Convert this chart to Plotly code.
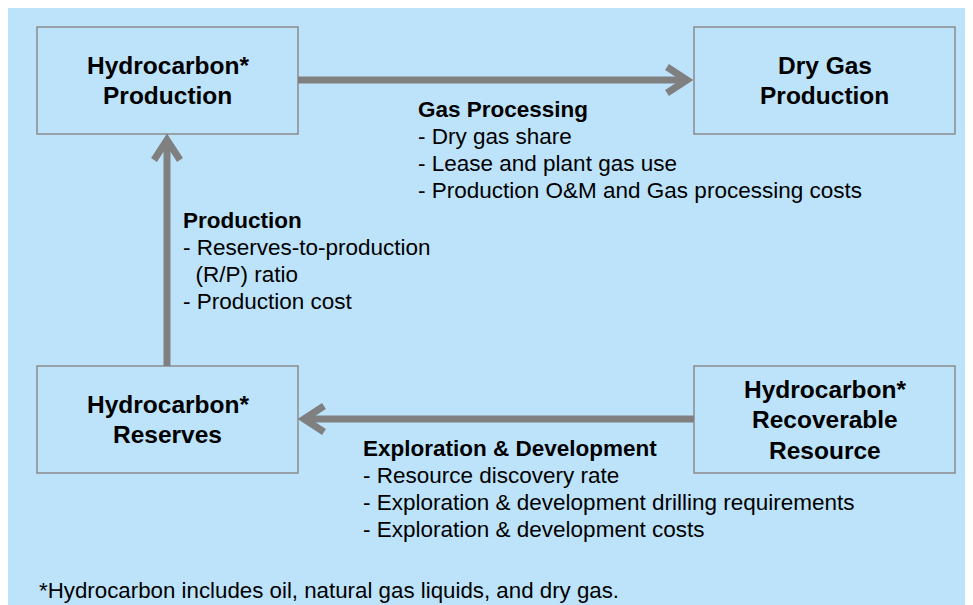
import plotly.graph_objects as go

# ---- content (text) ----
box_labels = [
    ["Hydrocarbon*", "Production"],
    ["Dry Gas", "Production"],
    ["Hydrocarbon*", "Reserves"],
    ["Hydrocarbon*", "Recoverable", "Resource"],
]
block_titles = ["Gas Processing", "Production", "Exploration & Development"]
block_items = [
    ["- Dry gas share", "- Lease and plant gas use",
     "- Production O&M and Gas processing costs"],
    ["- Reserves-to-production", "  (R/P) ratio", "- Production cost"],
    ["- Resource discovery rate",
     "- Exploration & development drilling requirements",
     "- Exploration & development costs"],
]
footnote = "*Hydrocarbon includes oil, natural gas liquids, and dry gas."

# ---- layout geometry (page pixel space, y down; page has 8px body margin) ----
W, H = 973, 605
OFF = 8
BG = "#BDE3FB"
BORDER = "#8C8C8C"
ARROW = "#808080"
FONT = "Liberation Sans, Arial, sans-serif"

boxes = [(37, 27, 298, 134), (694, 27, 955, 134),
         (37, 366, 298, 473), (694, 366, 955, 473)]
LABEL_DY = 30.5

shapes = []
annotations = []

# background panel
shapes.append(dict(type="rect", xref="x", yref="y", x0=OFF, y0=OFF, x1=W + OFF, y1=H + OFF,
                   fillcolor=BG, line=dict(width=0), layer="below"))

for (x0, y0, x1, y1), lines in zip(boxes, box_labels):
    shapes.append(dict(type="rect", xref="x", yref="y", x0=x0, y0=y0, x1=x1, y1=y1,
                       fillcolor="rgba(0,0,0,0)", line=dict(color=BORDER, width=1.5)))
    cy = (y0 + y1) / 2
    n = len(lines)
    for i, ln in enumerate(lines):
        annotations.append(dict(x=(x0 + x1) / 2, y=cy + (i - (n - 1) / 2) * LABEL_DY,
                                xref="x", yref="y", text="<b>" + ln + "</b>", showarrow=False,
                                font=dict(family=FONT, size=24.5, color="#000000"),
                                align="center", xanchor="center", yanchor="middle"))

# arrows: (shaft start, tip, arm1, arm2)
arrows = [
    ((298, 80), (687, 80), (667, 67), (667, 93)),
    ((167, 366), (167, 140), (154, 160), (180, 160)),
    ((694, 419), (304, 419), (324, 406), (324, 432)),
]
for s, t, a1, a2 in arrows:
    shapes.append(dict(type="line", xref="x", yref="y", x0=s[0], y0=s[1], x1=t[0], y1=t[1],
                       line=dict(color=ARROW, width=7)))
    shapes.append(dict(type="path", xref="x", yref="y",
                       path=f"M {a1[0]},{a1[1]} L {t[0]},{t[1]} L {a2[0]},{a2[1]}",
                       line=dict(color=ARROW, width=7)))

# text blocks: (left x, y of title center, line spacing)
block_pos = [(416, 109, 27), (181, 220, 27), (361, 448, 27)]
for (bx, by, dy), title, items in zip(block_pos, block_titles, block_items):
    annotations.append(dict(x=bx, y=by, xref="x", yref="y", text="<b>" + title + "</b>",
                            showarrow=False, xanchor="left", yanchor="middle",
                            font=dict(family=FONT, size=22.5, color="#000000")))
    for i, it in enumerate(items):
        txt = it.replace("  ", "&nbsp;&nbsp;")
        annotations.append(dict(x=bx, y=by + dy * (i + 1), xref="x", yref="y", text=txt,
                                showarrow=False, xanchor="left", yanchor="middle",
                                font=dict(family=FONT, size=22.5, color="#000000")))

annotations.append(dict(x=37, y=590, xref="x", yref="y", text=footnote, showarrow=False,
                        xanchor="left", yanchor="middle",
                        font=dict(family=FONT, size=22.3, color="#000000")))

fig = go.Figure()
fig.update_layout(
    width=W, height=H, margin=dict(l=0, r=0, t=0, b=0),
    paper_bgcolor=BG, plot_bgcolor=BG,
    xaxis=dict(range=[OFF, W + OFF], visible=False, fixedrange=True),
    yaxis=dict(range=[H + OFF, OFF], visible=False, fixedrange=True),
    shapes=shapes, annotations=annotations, showlegend=False,
)
fig.write_html("out.html")
